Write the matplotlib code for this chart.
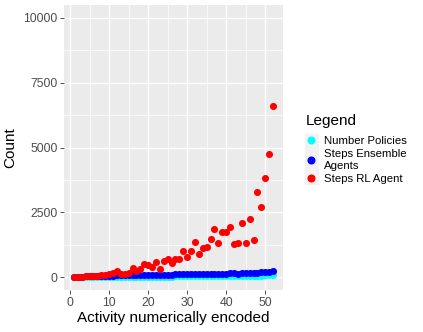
import numpy as np
import matplotlib
matplotlib.use("Agg")
import matplotlib.pyplot as plt
from matplotlib.lines import Line2D
from matplotlib.patches import Rectangle

plt.rcParams['font.family'] = ['Liberation Sans', 'DejaVu Sans']

activity = list(range(1, 53))
steps_rl = [10, 10, 10, 40, 50, 30, 40, 60, 80, 120, 170, 220, 100, 120, 143, 338,
            221, 299, 493, 454, 390, 584, 325, 610, 688, 545, 688, 688, 987, 779,
            1013, 1351, 883, 1117, 1169, 1467, 1870, 1299, 1727, 1727, 1922, 1260,
            1325, 2090, 1325, 2247, 1441, 3284, 2700, 3818, 4765, 6620]
steps_ens = [15, 18, 20, 25, 28, 32, 35, 40, 45, 50, 55, 60, 62, 65, 70, 72, 75, 78,
             80, 82, 85, 88, 90, 92, 95, 98, 100, 102, 105, 108, 110, 112, 115, 118,
             120, 122, 125, 128, 130, 135, 140, 145, 130, 150, 155, 160, 165, 170,
             180, 195, 210, 235]
n_policies = [5, 5, 6, 6, 7, 8, 8, 9, 10, 10, 11, 12, 12, 13, 14, 14, 15, 16, 16, 17,
              18, 18, 19, 20, 20, 21, 22, 22, 23, 24, 25, 25, 26, 27, 28, 28, 30, 31,
              32, 33, 34, 35, 36, 38, 40, 42, 45, 48, 52, 60, 70, 90]

fig = plt.figure(figsize=(4.23, 3.32), dpi=100)
ax = fig.add_axes([64/423, 1-290/332, (283-64)/423, (290-5)/332])
ax.set_facecolor('#EBEBEB')
for s in ax.spines.values():
    s.set_visible(False)

ax.scatter(activity, n_policies, s=26, color='#00FFFF', zorder=3, linewidths=0)
ax.scatter(activity, steps_ens, s=26, color='#0000FF', zorder=3, linewidths=0)
ax.scatter(activity, steps_rl, s=26, color='#FF0000', zorder=3, linewidths=0)

ax.set_xlim(-1.55, 54.55)
ax.set_ylim(-500, 10500)
ax.set_xticks([0, 10, 20, 30, 40, 50])
ax.set_yticks([0, 2500, 5000, 7500, 10000])
ax.set_xticks([5, 15, 25, 35, 45], minor=True)
ax.set_yticks([1250, 3750, 6250, 8750], minor=True)
ax.grid(which='major', color='white', linewidth=1.0)
ax.grid(which='minor', color='white', linewidth=0.5)
ax.set_axisbelow(True)
ax.tick_params(which='major', length=2.75, width=0.6, color='#333333',
               labelcolor='#4D4D4D', labelsize=8.8, pad=2)
ax.tick_params(which='minor', length=0)

ax.set_xlabel('Activity numerically encoded', fontsize=11, labelpad=2)
ax.set_ylabel('Count', fontsize=11, labelpad=4)

# legend key background
fig.patches.append(Rectangle((305/423, 1-184/332), 13/423, 50/332,
                             transform=fig.transFigure, color='#F2F2F2', zorder=0))

fig.text(306/423, 1-121/332, 'Legend', fontsize=11, va='center', ha='left')
handles = [Line2D([], [], marker='o', linestyle='', color=c, markersize=4.8)
           for c in ['#00FFFF', '#0000FF', '#FF0000']]
leg = fig.legend(handles, ['Number Policies', 'Steps Ensemble\nAgents', 'Steps RL Agent'],
                 loc='upper left', bbox_to_anchor=(305/423, 1-136/332),
                 frameon=False, fontsize=8.2,
                 handlelength=1.1, handletextpad=0.55, labelspacing=0.3,
                 borderpad=0, borderaxespad=0)

fig.savefig('out.png', dpi=100)
